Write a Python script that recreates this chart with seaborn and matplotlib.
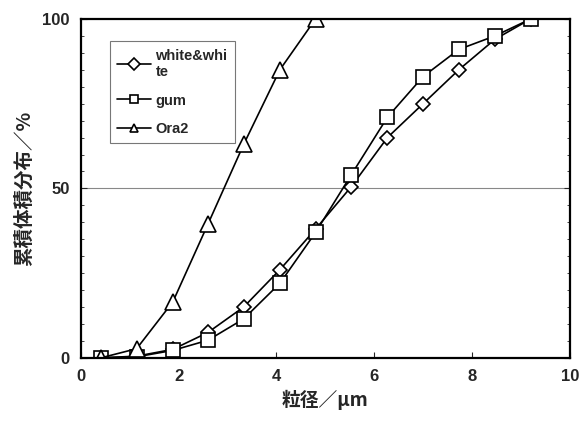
import numpy as np
import pandas as pd
import matplotlib
matplotlib.use("Agg")
import matplotlib.pyplot as plt
import seaborn as sns
from matplotlib.ticker import MultipleLocator

# particle size (um) and cumulative volume (%)
size = [0.41, 1.14, 1.88, 2.6, 3.33, 4.07, 4.8, 5.53, 6.27, 7.0, 7.73, 8.47, 9.2]
white = [0, 0.5, 2.5, 7.5, 15, 26, 38, 50.5, 65, 75, 85, 94, 100]
gum = [0, 0.3, 2.2, 5.2, 11.5, 22, 37, 54, 71, 83, 91, 95, 100]
ora2_size = [0.41, 1.14, 1.88, 2.6, 3.33, 4.07, 4.8]
ora2 = [0, 2.7, 16.5, 39.5, 63, 85, 100]

labels = ["white&whi\nte", "gum", "Ora2"]

df = pd.concat([
    pd.DataFrame({"size": size, "vol": white, "name": labels[0]}),
    pd.DataFrame({"size": size, "vol": gum, "name": labels[1]}),
    pd.DataFrame({"size": ora2_size, "vol": ora2, "name": labels[2]}),
])

sns.set_theme(style="ticks")
plt.rcParams["font.family"] = ["Liberation Sans", "Noto Sans CJK JP", "DejaVu Sans"]

fig = plt.figure(figsize=(5.82, 4.21), dpi=100)
ax = fig.add_axes([0.139, 0.150, 0.840, 0.805])

ax.axhline(50, color="#888888", linewidth=0.8, zorder=0)

marker_map = {labels[0]: "D", labels[1]: "s", labels[2]: "^"}
size_map = {labels[0]: 7.5, labels[1]: 10, labels[2]: 11}
for lab, sub in df.groupby("name", sort=False):
    sns.lineplot(
        data=sub, x="size", y="vol", color="black", marker=marker_map[lab],
        markersize=size_map[lab], markerfacecolor="white", markeredgecolor="black",
        markeredgewidth=1.2, linewidth=1.2, sort=False, label=lab, ax=ax,
    )

ax.set_xlim(0, 10)
ax.set_ylim(0, 100)
ax.set_xticks([0, 2, 4, 6, 8, 10])
ax.set_yticks([0, 50, 100])
ax.yaxis.set_minor_locator(MultipleLocator(5))
ax.tick_params(direction="in", length=4, width=0.8, labelsize=12, pad=8, right=True)
ax.tick_params(which="minor", direction="in", length=2, width=0.6, right=True)
for t in ax.get_xticklabels() + ax.get_yticklabels():
    t.set_fontweight("bold")
for sp in ax.spines.values():
    sp.set_linewidth(1.6)
    sp.set_color("black")

ax.set_xlabel("粒径／μm", family=["Noto Sans CJK JP", "DejaVu Sans"],
              fontweight="bold", fontsize=13.5, labelpad=4)
ax.set_ylabel("累積体積分布／%", family=["Noto Sans CJK JP", "DejaVu Sans"],
              fontweight="bold", fontsize=14, labelpad=6)

leg = ax.legend(loc="upper left", bbox_to_anchor=(0.045, 0.955), frameon=True,
                fancybox=False, edgecolor="#555555", fontsize=10.5,
                handlelength=2.3, handletextpad=0.3, borderpad=0.5,
                labelspacing=1.0)
leg.get_frame().set_linewidth(0.8)
for t in leg.get_texts():
    t.set_fontweight("bold")
for h in leg.legend_handles:
    h.set_markersize(6)

fig.savefig("out.png", dpi=100)
